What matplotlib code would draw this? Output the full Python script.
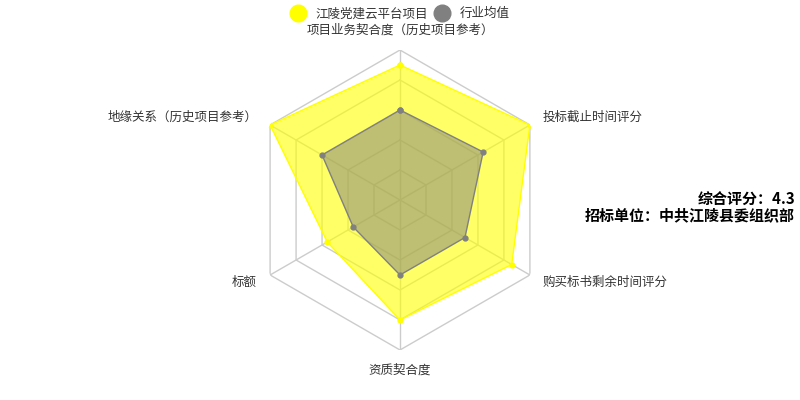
import numpy as np
import matplotlib
matplotlib.use("Agg")
import matplotlib.pyplot as plt
from matplotlib.lines import Line2D

plt.rcParams["font.family"] = ["Noto Sans CJK SC", "DejaVu Sans"]

# data
indicators = ["项目业务契合度（历史项目参考）", "投标截止时间评分", "购买标书剩余时间评分",
              "资质契合度", "标额", "地缘关系（历史项目参考）"]
project_vals = [4.5, 5.0, 4.3, 4.0, 2.8, 5.0]
industry_vals = [3.0, 3.2, 2.5, 2.5, 1.8, 3.0]
series_names = ["江陵党建云平台项目", "行业均值"]
max_val = 5
score_text = "综合评分：4.3"
unit_text = "招标单位：中共江陵县委组织部"

n = len(indicators)
angles = np.linspace(0, 2 * np.pi, n, endpoint=False)
closed = np.append(angles, angles[0])

fig = plt.figure(figsize=(8, 4), dpi=100)
ax = fig.add_axes([0.3125, 0.125, 0.375, 0.75], projection="polar")
ax.set_theta_offset(np.pi / 2)
ax.set_theta_direction(-1)
ax.set_ylim(0, max_val)
ax.grid(False)
ax.spines["polar"].set_visible(False)
ax.set_xticks([])
ax.set_yticks([])
ax.patch.set_alpha(0)

# hexagon rings and spokes
for r in range(1, max_val + 1):
    ax.plot(closed, [r] * (n + 1), color="#cccccc", lw=1, zorder=1)
for a in angles:
    ax.plot([a, a], [0, max_val], color="#cccccc", lw=1, zorder=1)

pv = project_vals + project_vals[:1]
iv = industry_vals + industry_vals[:1]
ax.fill(closed, pv, color="#ffff00", alpha=0.6, zorder=2, lw=0)
ax.plot(closed, pv, color="#ffff00", lw=1, zorder=3, marker="o", ms=3.5)
ax.fill(closed, iv, color="#808080", alpha=0.5, zorder=4, lw=0)
ax.plot(closed, iv, color="#808080", lw=1, zorder=5, marker="o", ms=3.5)

# axis labels
for a, lab in zip(angles, indicators):
    s = np.sin(a)
    if abs(s) < 0.01:
        ha = "center"
        r = max_val * 1.135
    else:
        ha = "left" if s > 0 else "right"
        r = max_val * 1.1
    ax.text(a, r, lab, ha=ha, va="center", fontsize=9, color="#333333")

handles = [Line2D([], [], ls="none", marker="o", ms=12, color="#ffff00"),
           Line2D([], [], ls="none", marker="o", ms=12, color="#808080")]
fig.legend(handles, series_names, loc="upper center", bbox_to_anchor=(0.5, 1.01),
           ncol=2, frameon=False, fontsize=9, handlelength=1.2, handletextpad=0.8,
           columnspacing=0.5, labelcolor="#333333")

fig.text(0.994, 0.5, score_text, ha="right", va="center", fontsize=10.8, fontweight="bold")
fig.text(0.994, 0.462, unit_text, ha="right", va="center", fontsize=10.8, fontweight="bold")

fig.savefig("out.png", dpi=100)
